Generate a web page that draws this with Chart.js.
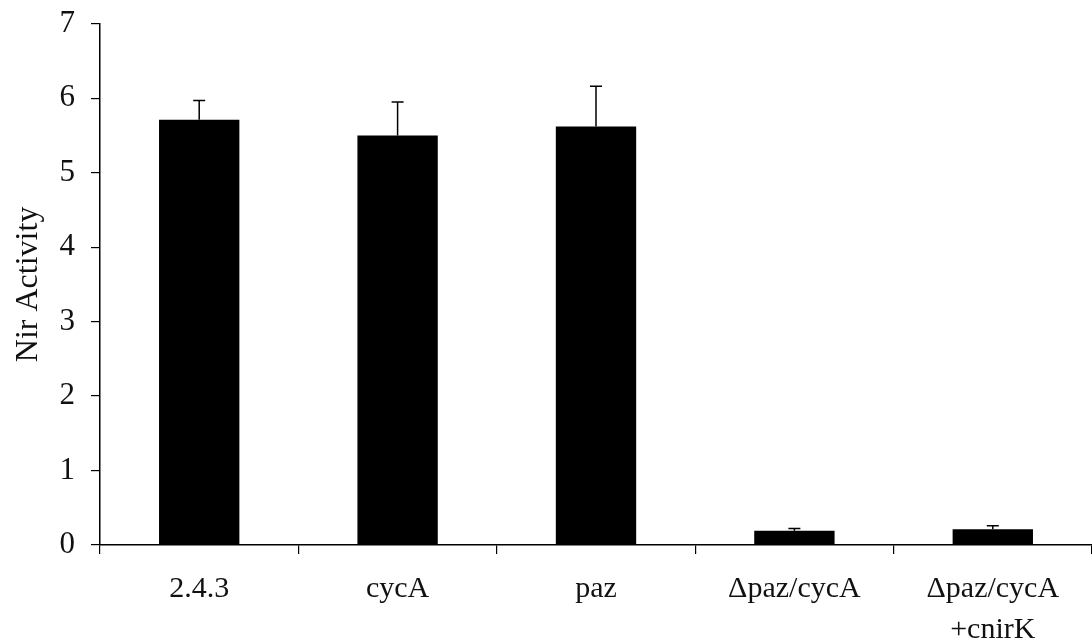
<!DOCTYPE html>
<html>
<head>
<meta charset="utf-8">
<script src="https://cdn.jsdelivr.net/npm/chart.js@4/dist/chart.umd.min.js"></script>
<style>
html,body{margin:0;padding:0;background:#fff;}
#wrap{width:1092px;height:644px;position:relative;}
</style>
</head>
<body>
<div id="wrap"><canvas id="c" width="1092" height="644"></canvas></div>
<script>
const categories = ["2.4.3", "cycA", "paz", ["\u0394paz/cycA"], ["\u0394paz/cycA", "+cnirK"]];
const activity = [5.71, 5.50, 5.62, 0.19, 0.21];
const errorUp = [0.26, 0.45, 0.54, 0.03, 0.05];
const yTicks = [0, 1, 2, 3, 4, 5, 6, 7];

const FONT = "'Liberation Serif', 'Times New Roman', serif";

const errorBars = {
  id: 'errorBars',
  afterDatasetsDraw(chart) {
    const ctx = chart.ctx;
    const meta = chart.getDatasetMeta(0);
    const y = chart.scales.y;
    ctx.save();
    ctx.strokeStyle = '#000';
    ctx.lineWidth = 1.5;
    meta.data.forEach((bar, i) => {
      const x = bar.x;
      const yTop = y.getPixelForValue(activity[i] + errorUp[i]);
      const yBar = y.getPixelForValue(activity[i]);
      ctx.beginPath();
      ctx.moveTo(x, yBar);
      ctx.lineTo(x, yTop);
      ctx.moveTo(x - 6, yTop);
      ctx.lineTo(x + 6, yTop);
      ctx.stroke();
    });
    ctx.restore();
  }
};

new Chart(document.getElementById('c'), {
  type: 'bar',
  data: {
    labels: categories,
    datasets: [{
      data: activity,
      backgroundColor: '#000',
      borderWidth: 0,
      categoryPercentage: 1,
      barPercentage: 0.405
    }]
  },
  options: {
    responsive: false,
    animation: false,
    events: [],
    layout: { padding: { top: 0, right: 0, left: 0, bottom: 0 } },
    plugins: { legend: { display: false }, tooltip: { enabled: false } },
    scales: {
      x: {
        grid: { display: true, drawOnChartArea: false, drawTicks: true, tickLength: 9, color: '#000', lineWidth: 1.2, offset: true },
        border: { display: true, color: '#000', width: 1.5 },
        ticks: { color: '#111', font: { family: FONT, size: 30, lineHeight: 1.38 }, padding: 14, maxRotation: 0, autoSkip: false },
        afterFit(s) { s.height = 99; }
      },
      y: {
        min: 0, max: 7,
        afterBuildTicks(s) { s.ticks = yTicks.map(v => ({ value: v })); },
        grid: { display: true, drawOnChartArea: false, drawTicks: true, tickLength: 9, color: '#000', lineWidth: 1.2 },
        border: { display: true, color: '#000', width: 1.5 },
        ticks: { color: '#111', font: { family: FONT, size: 31, lineHeight: 0.5 }, padding: 16 },
        title: { display: true, text: 'Nir Activity', color: '#111', font: { family: FONT, size: 32 }, padding: { top: 9, bottom: 0 } },
        afterFit(s) { s.width = 100; }
      }
    }
  },
  plugins: [errorBars]
});
</script>
</body>
</html>
